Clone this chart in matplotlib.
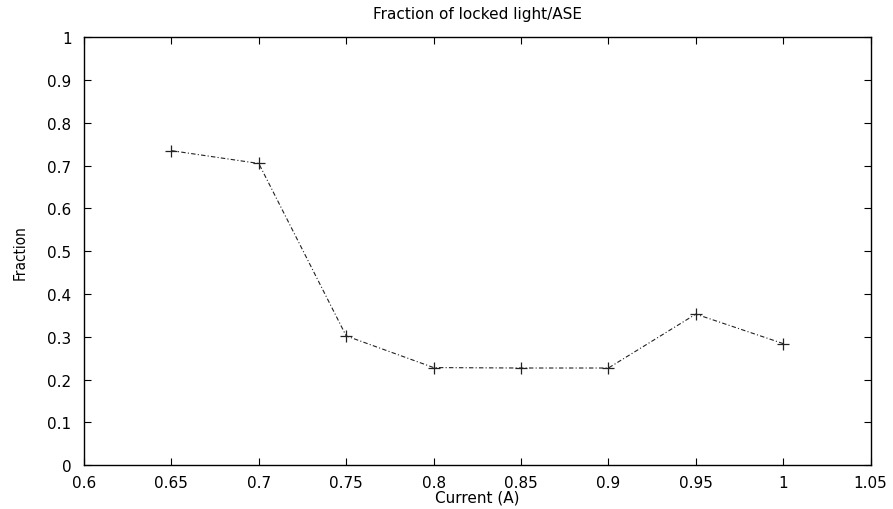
import matplotlib
matplotlib.use("Agg")
import matplotlib.pyplot as plt

# data
current = [0.65, 0.70, 0.75, 0.80, 0.85, 0.90, 0.95, 1.00]
fraction = [0.735, 0.705, 0.302, 0.228, 0.227, 0.227, 0.353, 0.284]
xticks = [0.6, 0.65, 0.7, 0.75, 0.8, 0.85, 0.9, 0.95, 1, 1.05]
yticks = [0, 0.1, 0.2, 0.3, 0.4, 0.5, 0.6, 0.7, 0.8, 0.9, 1]

plt.rcParams['font.family'] = ['DejaVu Sans']

fig = plt.figure(figsize=(8.93, 5.10), dpi=100)
ax = fig.add_axes([0.094, 0.086, 0.881, 0.839])

ax.plot(current, fraction, color='#222222', linestyle=(0, (4, 2, 1, 2)), linewidth=0.8,
        marker='+', markersize=9, markeredgewidth=0.9)

ax.set_xlim(0.6, 1.05)
ax.set_ylim(0, 1)
ax.set_xticks(xticks)
ax.set_xticklabels([f'{t:g}' for t in xticks])
ax.set_yticks(yticks)
ax.set_yticklabels([f'{t:g}' for t in yticks])
ax.tick_params(direction='in', top=True, right=True, length=5, labelsize=11)
ax.tick_params(axis='x', pad=7)
ax.tick_params(axis='y', pad=9)
for s in ax.spines.values():
    s.set_linewidth(1.0)

ax.set_title('Fraction of locked light/ASE', fontsize=11, pad=14)
ax.set_xlabel('Current (A)', fontsize=11, labelpad=0)
ax.set_ylabel('Fraction', fontsize=11, labelpad=14, fontstretch='condensed')

fig.savefig('out.png', dpi=100)
